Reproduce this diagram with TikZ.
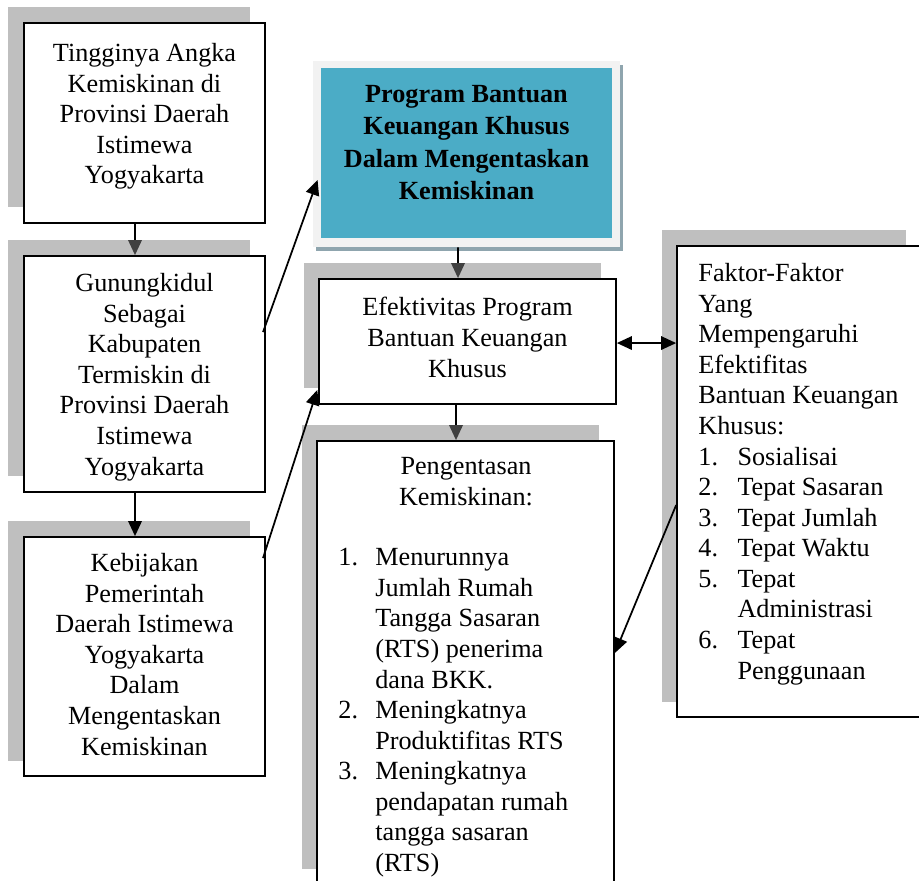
\documentclass[tikz,border=0pt]{standalone}
\usepackage{fontspec}
\setmainfont{Liberation Serif}
\usetikzlibrary{arrows.meta,shadows,fit,calc}
\definecolor{shadowgray}{RGB}{191,191,191}
\definecolor{bluefill}{RGB}{75,172,198}
\definecolor{framegray}{RGB}{242,242,242}
\definecolor{blueshadow}{RGB}{143,165,174}
\definecolor{headgray}{RGB}{64,64,64}
\newcommand\pitm[1]{\makebox[16.9pt][l]{#1}}
\newcommand\fitm[1]{\makebox[17.9pt][l]{#1}}
\begin{document}
\begin{tikzpicture}[x=0.458pt,y=-0.458pt,
  box/.style={draw=black, line width=0.8pt, fill=white, inner sep=0pt,
    general shadow={fill=shadowgray, shadow xshift=-7.1pt, shadow yshift=7.1pt}},
  txt/.style={inner sep=0pt, font=\fontsize{12}{14}\selectfont},
  ctxt/.style={txt, anchor=north, align=center},
  ltxt/.style={txt, anchor=north west, align=left},
  arr/.style={line width=0.8pt, -{Triangle[length=6.9pt,width=6.2pt]}},
  garr/.style={line width=0.8pt, -{Triangle[length=6.9pt,width=6.2pt,color=headgray]}},
  darr/.style={line width=0.8pt, {Triangle[length=6.9pt,width=6.2pt]}-{Triangle[length=6.9pt,width=6.2pt]}}
]
\useasboundingbox (0,0) rectangle (919,881);
\clip (0,0) rectangle (919,881);

% boxes
\node[box, fit={(24,23) (265,223)}] (b1) {};
\node[box, fit={(24,256) (265,492)}] (b2) {};
\node[box, fit={(24,537) (265,776)}] (b3) {};
\node[box, fit={(319,279) (616,404)}] (efek) {};
\node[box, fit={(317,441) (614,884)}] (peng) {};
\node[box, fit={(677,246) (921,717)}] (faktor) {};

% blue box
\node[fill=framegray, inner sep=0pt, fit={(313,61) (620,247)},
  general shadow={fill=blueshadow, shadow xshift=1.5pt, shadow yshift=-1.8pt}] (bluebox) {};
\node[fill=bluefill, inner sep=0pt, fit={(321,68) (612,238)}] (blueinner) {};

% texts
\node[ctxt] (b1t) at (144.5,43) {Tingginya Angka\\Kemiskinan di\\Provinsi Daerah\\Istimewa\\Yogyakarta};
\node[ctxt] (b2t) at (144.5,273) {Gunungkidul\\Sebagai\\Kabupaten\\Termiskin di\\Provinsi Daerah\\Istimewa\\Yogyakarta};
\node[ctxt] (b3t) at (144.5,553) {Kebijakan\\Pemerintah\\Daerah Istimewa\\Yogyakarta\\Dalam\\Mengentaskan\\Kemiskinan};
\node[inner sep=0pt, anchor=north, align=center, font=\fontsize{12}{14.8}\selectfont\bfseries] (bluet) at (466.5,85)
  {Program Bantuan\\Keuangan Khusus\\Dalam Mengentaskan\\Kemiskinan};
\node[ctxt] (efekt) at (467.5,297) {Efektivitas Program\\Bantuan Keuangan\\Khusus};
\node[ctxt] (pengh) at (466,457) {Pengentasan\\Kemiskinan:};
\node[ltxt] (pengl) at (338,548) {\pitm{1.}Menurunnya\\\pitm{}Jumlah Rumah\\\pitm{}Tangga Sasaran\\\pitm{}(RTS) penerima\\\pitm{}dana BKK.\\\pitm{2.}Meningkatnya\\\pitm{}Produktifitas RTS\\\pitm{3.}Meningkatnya\\\pitm{}pendapatan rumah\\\pitm{}tangga sasaran\\\pitm{}(RTS)};
\node[ltxt] (faktort) at (698,263) {Faktor-Faktor\\Yang\\Mempengaruhi\\Efektifitas\\Bantuan Keuangan\\Khusus:\\\fitm{1.}Sosialisai\\\fitm{2.}Tepat Sasaran\\\fitm{3.}Tepat Jumlah\\\fitm{4.}Tepat Waktu\\\fitm{5.}Tepat\\\fitm{}Administrasi\\\fitm{6.}Tepat\\\fitm{}Penggunaan};

% connectors
\draw[garr] ([xshift=-4.35pt]b1.south) -- ([xshift=-4.35pt]b2.north);
\draw[arr] ([xshift=-4.35pt]b2.south) -- ([xshift=-4.35pt]b3.north);
\draw[arr] ([xshift=-1.3pt,yshift=19.2pt]b2.east) -- ([xshift=2.3pt,yshift=-11.9pt]bluebox.west);
\draw[arr] ([xshift=-1.3pt,yshift=45.1pt]b3.east) -- ([xshift=-0.4pt,yshift=-22.2pt]efek.west);
\draw[garr] ([xshift=-3.9pt]bluebox.south) -- ([xshift=-4.35pt]efek.north);
\draw[garr] ([xshift=-5.27pt]efek.south) -- ([xshift=-4.35pt]peng.north);
\draw[darr] ([yshift=-0.7pt]efek.east) -- ([yshift=63.4pt]faktor.west);
\draw[arr] ([yshift=-10.8pt]faktor.west) -- ([yshift=4.35pt]peng.east);
\end{tikzpicture}
\end{document}
